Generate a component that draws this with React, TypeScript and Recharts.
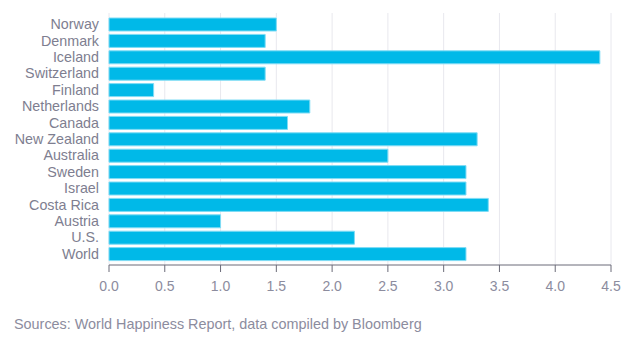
import { BarChart, Bar, XAxis, YAxis, CartesianGrid } from 'recharts';

const countries = [
  'Norway', 'Denmark', 'Iceland', 'Switzerland', 'Finland', 'Netherlands', 'Canada',
  'New Zealand', 'Australia', 'Sweden', 'Israel', 'Costa Rica', 'Austria', 'U.S.', 'World',
];
const values = [1.5, 1.4, 4.4, 1.4, 0.4, 1.8, 1.6, 3.3, 2.5, 3.2, 3.2, 3.4, 1.0, 2.2, 3.2];
const xTicks = [0, 0.5, 1, 1.5, 2, 2.5, 3, 3.5, 4, 4.5];
const source = 'Sources: World Happiness Report, data compiled by Bloomberg';

const font = '"Liberation Sans", Arial, sans-serif';

export default function App() {
  const data = countries.map((name, i) => ({ name, value: values[i] }));

  return (
    <div style={{ position: 'absolute', left: 0, top: 0, width: 640, height: 347, background: '#fff', fontFamily: font }}>
      <BarChart
        width={640}
        height={300}
        data={data}
        layout="vertical"
        margin={{ top: 13, right: 29, bottom: 5, left: 0 }}
      >
        <CartesianGrid horizontal={false} stroke="#e8e8ee" />
        <XAxis
          type="number"
          domain={[0, 4.5]}
          ticks={xTicks}
          tickFormatter={(v: number) => v.toFixed(1)}
          axisLine={{ stroke: '#6b6b78' }}
          tickLine={{ stroke: '#6b6b78' }}
          tickSize={7}
          tickMargin={9}
          tick={{ fontSize: 14, fill: '#8c8c9e', fontFamily: font }}
          height={30}
        />
        <YAxis
          type="category"
          dataKey="name"
          width={109}
          axisLine={false}
          tickLine={false}
          tickSize={0}
          tickMargin={10}
          padding={{ top: 3, bottom: 3 }}
          interval={0}
          tick={{ fontSize: 14.3, fill: '#7e7e90', fontFamily: font }}
        />
        <Bar dataKey="value" fill="#00b9e8" stroke="#7fdcf5" strokeWidth={1} barSize={13} isAnimationActive={false} />
      </BarChart>
      <div style={{ position: 'absolute', left: 14, top: 316, fontSize: 14.4, color: '#8c8c9e' }}>{source}</div>
    </div>
  );
}
